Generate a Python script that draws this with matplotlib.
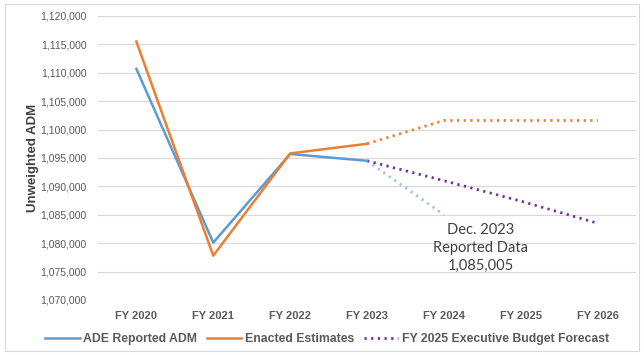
import numpy as np
import matplotlib
matplotlib.use("Agg")
import matplotlib.pyplot as plt
from matplotlib.patches import Rectangle

# Unweighted ADM by fiscal year
years = ["FY 2020", "FY 2021", "FY 2022", "FY 2023", "FY 2024", "FY 2025", "FY 2026"]
ade_reported = [1110700, 1080100, 1095700, 1094500, np.nan, np.nan, np.nan]
enacted = [1115500, 1077800, 1095800, 1097500, np.nan, np.nan, np.nan]
enacted_proj = [np.nan, np.nan, np.nan, 1097500, 1101600, 1101600, 1101600]
exec_forecast = [np.nan, np.nan, np.nan, 1094500, 1091000, 1087400, 1083500]
dec_2023 = [np.nan, np.nan, np.nan, 1094500, 1085005, np.nan, np.nan]

BLUE = "#5b9bd5"
ORANGE = "#ed7d31"
PURPLE = "#7030a0"
LIGHT_BLUE = "#9dc3e6"

plt.rcParams["font.family"] = ["Liberation Sans", "DejaVu Sans"]

fig = plt.figure(figsize=(6.44, 3.55), dpi=100)
ax = fig.add_axes([0.152, 0.155, 0.836, 0.80])

x = np.arange(len(years))
dot = (0, (0.8, 1.6))
ax.plot(x, dec_2023, color=LIGHT_BLUE, lw=2, ls=dot)
ax.plot(x, enacted_proj, color=ORANGE, lw=2, ls=dot)
ax.plot(x, exec_forecast, color=PURPLE, lw=2, ls=dot,
        label="FY 2025 Executive Budget Forecast")
ax.plot(x, ade_reported, color=BLUE, lw=1.8, label="ADE Reported ADM")
ax.plot(x, enacted, color=ORANGE, lw=1.8, label="Enacted Estimates")

ax.set_xlim(-0.5, len(years) - 0.5)
ax.set_ylim(1070000, 1120000)
ax.set_yticks(np.arange(1070000, 1120001, 5000))
ax.yaxis.set_major_formatter(matplotlib.ticker.FuncFormatter(lambda v, p: f"{v:,.0f}"))
ax.set_xticks(x)
ax.set_xticklabels(years, fontweight="bold", fontsize=8)
ax.tick_params(axis="both", length=0, colors="#595959")
ax.tick_params(axis="y", labelsize=7.5, pad=8)
ax.tick_params(axis="x", pad=8)
ax.grid(axis="y", color="#d9d9d9", lw=0.8)
for s in ax.spines.values():
    s.set_visible(False)
ax.set_axisbelow(True)

ax.set_ylabel("Unweighted ADM", fontsize=9.5, fontweight="bold", color="#404040", labelpad=1)

# label for the December 2023 reported figure
ax.text(4.48, 1079150,
        "Dec. 2023\nReported Data\n{:,.0f}".format(dec_2023[4]),
        ha="center", va="center", fontsize=10.5, color="#404040",
        family=["Lato", "DejaVu Sans"], linespacing=1.35)

handles, labels = ax.get_legend_handles_labels()
order = [1, 2, 0]
leg = fig.legend([handles[i] for i in order], [labels[i] for i in order],
                 loc="center", bbox_to_anchor=(0.508, 0.045), ncol=3, frameon=False,
                 prop={"size": 8.8, "weight": "bold"}, handlelength=2.8,
                 handletextpad=0.3, columnspacing=0.8)
for t in leg.get_texts():
    t.set_color("#595959")

# chart border
fig.patches.append(Rectangle((0.008, 0.01), 0.984, 0.98, transform=fig.transFigure,
                             fill=False, edgecolor="#d9d9d9", lw=0.8))

fig.savefig("out.png", dpi=100)
